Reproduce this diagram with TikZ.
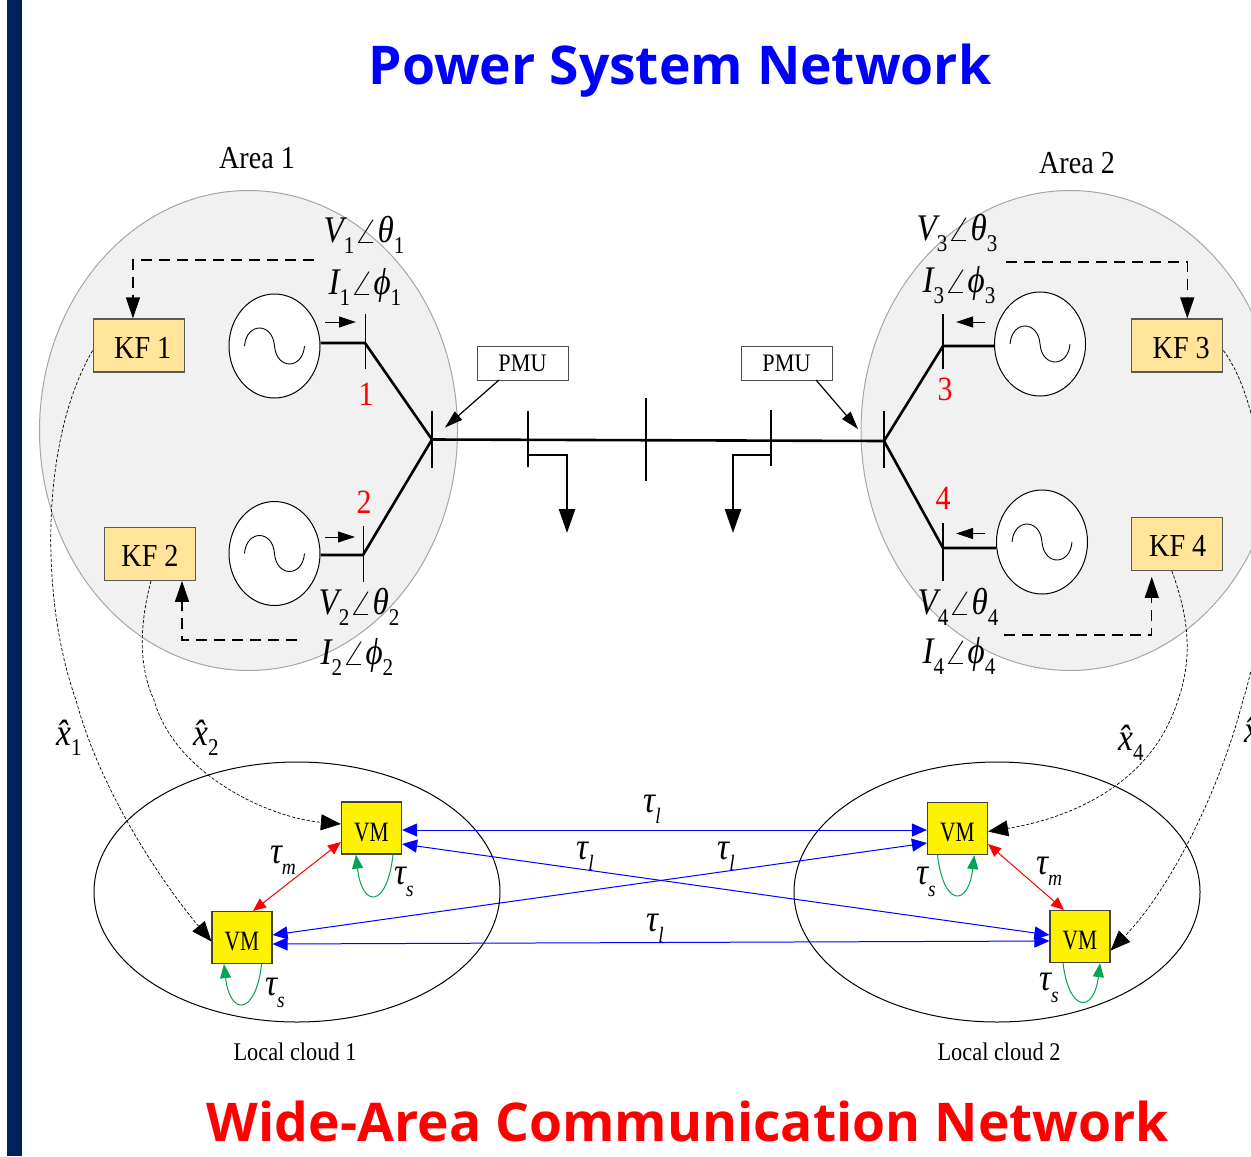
\documentclass[tikz,border=0pt]{standalone}
\usepackage{fontspec}
\usepackage{xcolor}
\usetikzlibrary{arrows.meta, positioning, shapes.geometric}
\setmainfont[FakeStretch=0.88]{Liberation Serif}
\newfontfamily\titlefont{Open Sans}
\definecolor{barnavy}{HTML}{002060}
\definecolor{areagrey}{HTML}{F1F1F1}
\definecolor{kfyellow}{HTML}{FFE499}
\definecolor{loopgreen}{HTML}{00A651}
\newcommand{\lowsub}[1]{\raisebox{-0.28em}{\fontsize{12}{12}\selectfont #1}}
\newcommand{\phasor}[3]{{\itshape #1}\lowsub{#3}\scalebox{1.25}[1.02]{$\angle$}{\itshape #2}\lowsub{#3}}
\newcommand{\tausub}[1]{{\itshape τ}\raisebox{-0.3em}{\fontsize{11}{11}\selectfont\itshape #1}}
\newcommand{\xhatsub}[1]{{\itshape x̂}\lowsub{#1}}
\newcommand{\vmtext}{\scalebox{0.87}[1]{VM}}

\begin{document}
\begin{tikzpicture}[x=0.5pt, y=-0.5pt,
  area/.style={ellipse, draw=black!35, fill=areagrey, line width=0.5pt, inner sep=0pt,
               minimum width=209pt, minimum height=240pt},
  cloud/.style={ellipse, draw=black, line width=0.5pt, inner sep=0pt,
                minimum width=203pt, minimum height=130pt},
  gen/.style={ellipse, draw=black, fill=white, line width=0.5pt, inner sep=0pt,
              minimum width=45.5pt, minimum height=52pt},
  kf/.style={draw=black!65, fill=kfyellow, line width=0.6pt, inner sep=0pt,
             minimum width=45.5pt, minimum height=26.5pt, text height=12.6pt, text depth=0pt,
             font=\fontsize{16}{17}\selectfont},
  pmu/.style={draw=black!70, fill=white, line width=0.5pt, inner sep=0pt,
              minimum width=45.5pt, minimum height=17pt, font=\fontsize{12.6}{14}\selectfont},
  vm/.style={draw=black!75, fill=yellow, line width=0.6pt, inner sep=0pt,
             minimum width=30pt, minimum height=26pt, text height=13pt, text depth=0pt,
             font=\fontsize{14}{15}\selectfont},
  lab/.style={inner sep=0pt, font=\fontsize{18.8}{22}\selectfont},
  busno/.style={inner sep=0pt, text=red, font=\fontsize{17}{18}\selectfont},
  tag/.style={inner sep=0pt, font=\fontsize{16}{18}\selectfont},
  small/.style={inner sep=0pt, font=\fontsize{12.7}{14}\selectfont},
  delay/.style={inner sep=0pt, font=\fontsize{19}{20}\selectfont},
  title/.style={inner sep=0pt, font=\titlefont\bfseries\fontsize{26.7}{30}\selectfont},
  line/.style={line width=1.3pt, line join=miter},
  bar/.style={line width=0.9pt},
  thinbar/.style={line width=0.45pt},
  dashline/.style={line width=0.6pt, dash pattern=on 5.5pt off 3.5pt, -{Triangle[length=10.5pt, width=7pt]}},
  est/.style={line width=0.35pt, dash pattern=on 1.6pt off 0.9pt, -{Triangle[length=10pt, width=8pt]}},
  load/.style={line, -{Triangle[length=12pt, width=8pt]}},
  flow/.style={line width=0.5pt, -{Triangle[length=8.5pt, width=5.5pt]}},
  pmuarr/.style={line width=0.6pt, -{Triangle[length=9pt, width=5.5pt]}},
  blue2/.style={blue, line width=0.5pt, {Triangle[length=7.5pt, width=6.5pt]}-{Triangle[length=7.5pt, width=6.5pt]}},
  red2/.style={red, line width=0.5pt, {Triangle[length=6.5pt, width=5.5pt]}-{Triangle[length=6.5pt, width=5.5pt]}},
  selfloop/.style={loopgreen, line width=0.5pt, -{Triangle[length=7pt, width=5.5pt]}},
]
\clip (0,0) rectangle (1251,1156);
\fill[barnavy] (7,0) rectangle (22,1156);

\node[title, text=blue] (ttop) at (680,71) {Power System Network};
\node[title, text=red] (tbot) at (688,1121) {Wide-Area Communication Network};

\node[area] (area1) at (248.5,430.5) {};
\node[area] (area2) at (1070,430.5) {};
\node[tag] (lblarea1) at (257,158) {Area 1};
\node[tag] (lblarea2) at (1077,163) {Area 2};

\node[gen] (gen1) at (274.5,346) {};
\node[gen] (gen2) at (274.5,553.5) {};
\node[gen] (gen3) at (1040,344) {};
\node[gen] (gen4) at (1042,542) {};
\foreach \g in {gen1,gen2,gen3,gen4}
  \draw[line width=0.45pt, shift={(\g)}] (-30,0) .. controls (-28,-24) and (-2,-24) .. (0,0)
    .. controls (2,24) and (28,24) .. (30,0);

\coordinate (bus1) at (365,343);
\coordinate (bus2) at (363,555);
\coordinate (bus3) at (943,346);
\coordinate (bus4) at (943,548);
\coordinate (hubl) at (432,439.5);
\coordinate (hubr) at (884,441);
\coordinate (loadl) at (528,440);
\coordinate (midbus) at (646,440);
\coordinate (loadr) at (771,441);

\draw[line] (gen1.east |- bus1) -- (bus1) -- (hubl);
\draw[line] (gen2.east |- bus2) -- (bus2) -- (hubl);
\draw[line] (gen3.west |- bus3) -- (bus3) -- (hubr);
\draw[line] (gen4.west |- bus4) -- (bus4) -- (hubr);
\draw[line] (hubl) -- (hubr);
\draw[thinbar] (bus1) ++(0,-29) -- ++(0,55);
\draw[thinbar] (bus2) ++(0,-29) -- ++(0,56);
\draw[bar] (bus3) ++(0,-32) -- ++(0,55);
\draw[bar] (bus4) ++(0,-25) -- ++(0,58);
\draw[bar] (hubl) ++(0,-29) -- ++(0,57);
\draw[bar] (hubr) ++(0,-30) -- ++(0,57);
\draw[bar] (loadl) ++(0,-29) -- ++(0,56);
\draw[bar] (midbus) ++(0,-42) -- ++(0,83);
\draw[bar] (loadr) ++(0,-31) -- ++(0,56);
\draw[load] (528,455) -| (567,533);
\draw[load] (771,455) -| (733,533);

\draw[flow] (325,322) -- (356,322);
\draw[flow] (325,537) -- (355,537);
\draw[flow] (985,322) -- (956,322);
\draw[flow] (985,533.5) -- (956,533.5);

\node[busno] (no1) at (366,394) {1};
\node[busno] (no2) at (364,502) {2};
\node[busno] (no3) at (945,389) {3};
\node[busno] (no4) at (943,498) {4};

\node[kf] (kf1) at (138.75,345.5) {\hspace{4pt}KF 1};
\node[kf] (kf2) at (150,553.75) {KF 2};
\node[kf] (kf3) at (1177.25,345.5) {\hspace{4pt}KF 3};
\node[kf] (kf4) at (1176.75,543.75) {\hspace{1pt}KF 4};

\node[pmu] (pmu1) at (522.5,363) {PMU};
\node[pmu] (pmu2) at (786.5,363) {PMU};
\draw[pmuarr] (499,380) -- (445,427.5);
\draw[pmuarr] (816,380) -- (858,429);

\node[lab] (v1) at (364,235) {\phasor{V}{θ}{1}};
\node[lab] (i1) at (365,287) {\phasor{I}{ϕ}{1}};
\node[lab] (v2) at (359,607) {\phasor{V}{θ}{2}};
\node[lab] (i2) at (357,657) {\phasor{I}{ϕ}{2}};
\node[lab] (v3) at (957,233) {\phasor{V}{θ}{3}};
\node[lab] (i3) at (959,285) {\phasor{I}{ϕ}{3}};
\node[lab] (v4) at (958,607) {\phasor{V}{θ}{4}};
\node[lab] (i4) at (959,656) {\phasor{I}{ϕ}{4}};

\coordinate (d1) at (314,260);
\coordinate (d2) at (297,640);
\coordinate (d3) at (1006,262);
\coordinate (d4) at (1004,635);
\draw[dashline] (d1) -| ([xshift=-2.9pt]kf1.north);
\draw[dashline] (d2) -| ([xshift=16pt]kf2.south);
\draw[dashline] (d3) -| ([xshift=5pt]kf3.north);
\draw[dashline, shorten >=3pt] (d4) -| ([xshift=-12.5pt]kf4.south);

\node[cloud] (cloud1) at (297,892) {};
\node[cloud] (cloud2) at (997,892) {};
\node[small] (lblcloud1) at (295,1052) {Local cloud 1};
\node[small] (lblcloud2) at (999,1052) {Local cloud 2};

\node[vm] (vma) at (371.5,828) {\vmtext};
\node[vm] (vmb) at (242,937.5) {\vmtext};
\node[vm] (vmc) at (957.5,828.5) {\vmtext};
\node[vm] (vmd) at (1080,936.5) {\vmtext};

\draw[est] (kf1.west) ++(0,5) .. controls (40,440) and (40,600) .. (76,700)
  .. controls (100,790) and (160,880) .. ([yshift=-2pt]vmb.west);
\draw[est] ([xshift=0.5pt]kf2.south) .. controls (138,630) and (140,670) .. (154,700)
  .. controls (175,775) and (270,818) .. ([yshift=2pt]vma.west);
\draw[est] (kf3.east) ++(0,5) .. controls (1275,420) and (1275,600) .. (1243,700)
  .. controls (1220,790) and (1170,890) .. ([yshift=-7pt]vmd.east);
\draw[est] ([xshift=-2.5pt]kf4.south) .. controls (1190,620) and (1192,660) .. (1178,700)
  .. controls (1150,790) and (1060,820) .. ([yshift=-1.5pt]vmc.east);

\draw[blue2] ([yshift=-1pt]vma.east) -- ([yshift=-0.75pt]vmc.west);
\draw[blue2] ([yshift=-8pt]vma.east) -- ([yshift=0.75pt]vmd.west);
\draw[blue2] ([yshift=1.25pt]vmb.east) -- ([yshift=-7.25pt]vmc.west);
\draw[blue2] ([yshift=-3.25pt]vmb.east) -- ([yshift=-2.25pt]vmd.west);
\draw[red2] ([yshift=-7pt]vma.west) -- ([xshift=5.5pt]vmb.north);
\draw[red2] ([yshift=-7.75pt]vmc.east) -- ([xshift=-8pt]vmd.north);

\draw[selfloop] ([xshift=10.75pt]vma.south) .. controls +(-6,54) and +(6,54) .. ([xshift=-7.75pt]vma.south);
\draw[selfloop] ([xshift=9.8pt]vmb.south) .. controls +(-6,52) and +(6,52) .. ([xshift=-9pt]vmb.south);
\draw[selfloop] ([xshift=-10pt]vmc.south) .. controls +(6,52) and +(-6,52) .. ([xshift=8.4pt]vmc.south);
\draw[selfloop] ([xshift=-8.5pt]vmd.south) .. controls +(6,50) and +(-6,50) .. ([xshift=10pt]vmd.south);

\node[delay] (taul1) at (652,809) {\tausub{l}};
\node[delay] (taul2) at (585,856) {\tausub{l}};
\node[delay] (taul3) at (726,856) {\tausub{l}};
\node[delay] (taul4) at (655,928) {\tausub{l}};
\node[delay] (taum1) at (283,860) {\tausub{m}};
\node[delay] (taum2) at (1049,871) {\tausub{m}};
\node[delay] (taus1) at (404,882) {\tausub{s}};
\node[delay] (taus2) at (275,993) {\tausub{s}};
\node[delay] (taus3) at (926,882) {\tausub{s}};
\node[delay] (taus4) at (1049,988) {\tausub{s}};

\node[delay] (xhat1) at (69,738) {\xhatsub{1}};
\node[delay] (xhat2) at (206,738) {\xhatsub{2}};
\node[delay] (xhat4) at (1131,743) {\xhatsub{4}};
\node[delay, anchor=west] (xhat3) at (1244,735) {\xhatsub{3}};
\end{tikzpicture}
\end{document}
